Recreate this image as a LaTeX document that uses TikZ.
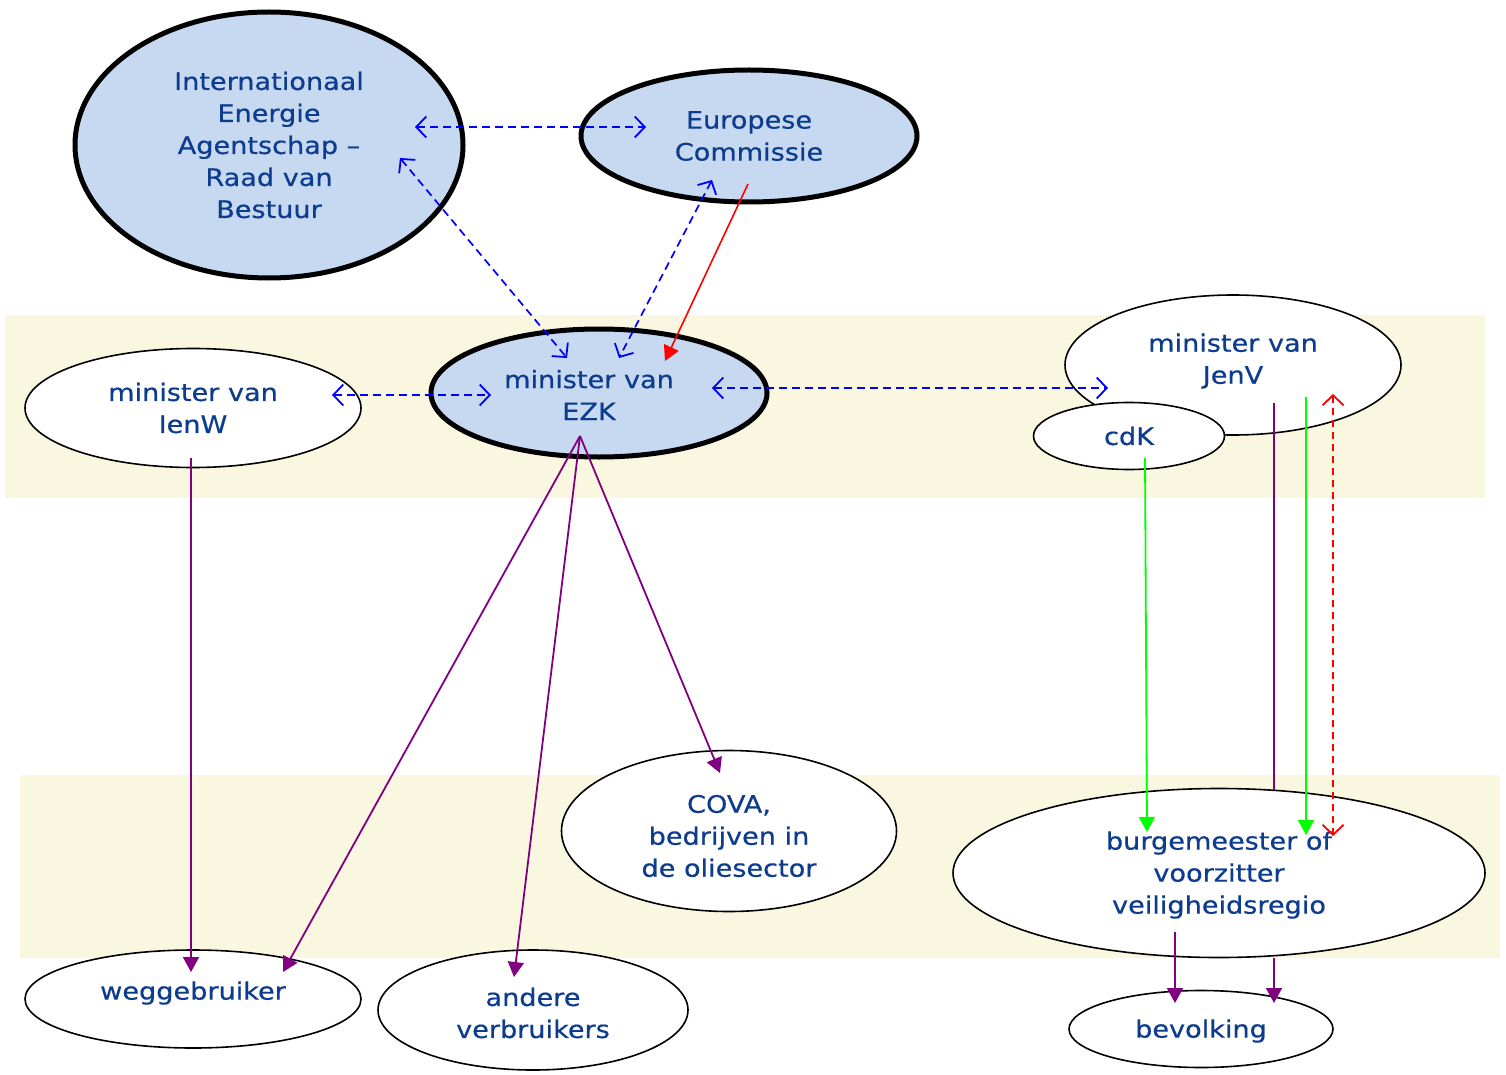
\documentclass[tikz,border=0pt]{standalone}
\usepackage{fontspec}
\setmainfont{DejaVu Sans}[FakeStretch=1.13,FakeBold=0.5]
\usetikzlibrary{shapes.geometric,arrows.meta}
\definecolor{band}{HTML}{F9F7DF}
\definecolor{lblue}{HTML}{C6D9F0}
\definecolor{txt}{HTML}{0D3C8E}
\definecolor{purp}{HTML}{800080}
\definecolor{grn}{HTML}{00FF00}
\tikzset{
  lbl/.style={text=txt, align=center, inner sep=0pt, font=\fontsize{24}{32}\selectfont},
  ell/.style={ellipse, draw=black, line width=1.6pt, fill=white, inner sep=0pt, lbl},
  thickell/.style={ell, line width=5pt, fill=lblue},
  barb/.tip={Straight Barb[length=10pt,width=21pt,line width=1.8pt]},
  dashblue/.style={draw=blue, line width=1.7pt, dash pattern=on 8pt off 5pt, {barb}-{barb}},
  redsolid/.style={draw=red, line width=1.6pt, -{Triangle[length=15pt,width=16pt]}},
  purparrow/.style={draw=purp, line width=1.8pt, -{Triangle[length=15pt,width=16pt]}},
  grnarrow/.style={draw=grn, line width=1.8pt, -{Triangle[length=15pt,width=16pt]}},
  reddash/.style={draw=red, line width=1.7pt, dash pattern=on 7pt off 5pt, {barb}-{barb}},
}
\begin{document}
\begin{tikzpicture}[x=1pt,y=-1pt]
\useasboundingbox (0,0) rectangle (1506,1075);
\fill[band] (5,315) rectangle (1485,498);
\fill[band] (20,775) rectangle (1500,958);
% nodes
\node[thickell, minimum width=388pt, minimum height=266pt] (iea) at (269,145) {Internationaal\\Energie\\Agentschap –\\Raad van\\Bestuur};
\node[thickell, minimum width=336pt, minimum height=132pt] (ec) at (749,136) {Europese\\Commissie};
\node[thickell, minimum width=336pt, minimum height=128pt] (ezk) at (599,393) {};
\node[lbl] (ezkt) at (589,395) {minister van\\EZK};
\node[ell, minimum width=336pt, minimum height=119pt] (ienw) at (193,408) {minister van\\IenW};
\node[ell, minimum width=336pt, minimum height=140pt] (jenv) at (1233,365) {};
\node[lbl] (jenvt) at (1233,361) {minister van\\JenV};
\node[ell, minimum width=191pt, minimum height=67pt] (cdk) at (1129,436) {cdK};
\node[ell, minimum width=335pt, minimum height=161pt] (cova) at (729,831) {};
\node[lbl] (covat) at (729,836) {COVA,\\bedrijven in\\de oliesector};
\node[ell, minimum width=532pt, minimum height=169pt] (burg) at (1219,873) {};
\node[lbl] (burgt) at (1219,875) {burgemeester of\\voorzitter\\veiligheidsregio};
\node[ell, minimum width=336pt, minimum height=98pt] (weg) at (193,999) {};
\node[lbl] (wegt) at (193,993) {weggebruiker};
\node[ell, minimum width=310pt, minimum height=120pt] (andere) at (533,1010) {};
\node[lbl] (anderet) at (533,1013) {andere\\verbruikers};
\node[ell, minimum width=264pt, minimum height=77pt] (bev) at (1201,1029) {};
\node[lbl] (bevt) at (1201,1031) {bevolking};
% connector end points
\coordinate (a1) at (415,127); \coordinate (a2) at (646,127);
\coordinate (b1) at (400,158); \coordinate (b2) at (567,358);
\coordinate (c1) at (712,180); \coordinate (c2) at (619,358);
\coordinate (d1) at (748,184); \coordinate (d2) at (665,361);
\coordinate (e1) at (332,395); \coordinate (e2) at (491,395);
\coordinate (f1) at (712,388); \coordinate (f2) at (1108,388);
\coordinate (g1) at (191,458); \coordinate (g2) at (191,972);
\coordinate (h0) at (580,436);
\coordinate (h1) at (283,972); \coordinate (h2) at (514,977); \coordinate (h3) at (720,773);
\coordinate (k1) at (1145,458); \coordinate (k2) at (1147,832);
\coordinate (l1) at (1274,403); \coordinate (l2) at (1274,790);
\coordinate (m1) at (1306,397); \coordinate (m2) at (1306,835);
\coordinate (n1) at (1333,394); \coordinate (n2) at (1333,836);
\coordinate (p1) at (1175,932); \coordinate (p2) at (1175,1003);
\coordinate (q1) at (1274,958); \coordinate (q2) at (1274,1003);
% connectors
\draw[dashblue] (a1) -- (a2);
\draw[dashblue] (b1) -- (b2);
\draw[dashblue] (c1) -- (c2);
\draw[redsolid] (d1) -- (d2);
\draw[dashblue] (e1) -- (e2);
\draw[dashblue] (f1) -- (f2);
\draw[purparrow] (g1) -- (g2);
\draw[purparrow] (h0) -- (h1);
\draw[purparrow] (h0) -- (h2);
\draw[purparrow] (h0) -- (h3);
\draw[grnarrow] (k1) -- (k2);
\draw[draw=purp, line width=1.8pt] (l1) -- (l2);
\draw[grnarrow] (m1) -- (m2);
\draw[reddash] (n1) -- (n2);
\draw[purparrow] (p1) -- (p2);
\draw[purparrow] (q1) -- (q2);
\end{tikzpicture}
\end{document}
